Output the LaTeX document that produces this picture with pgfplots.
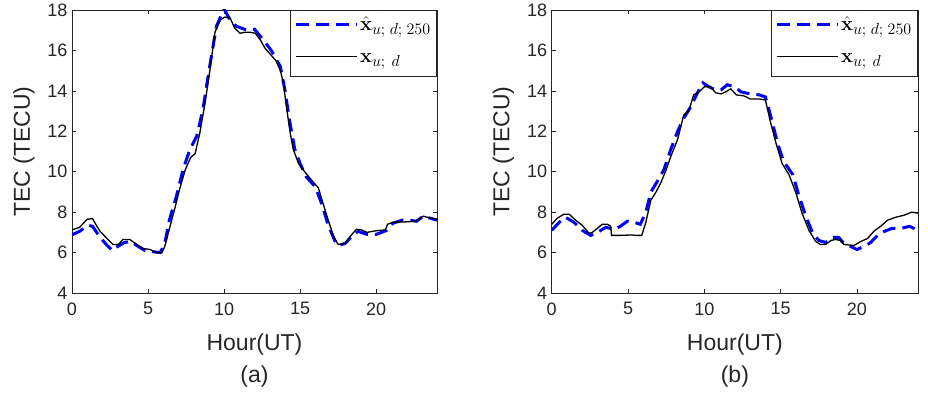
\RequirePackage{fix-cm}
\documentclass[border=0pt]{standalone}
\usepackage{pgfplots}
\pgfplotsset{compat=1.18}
\usepackage[no-math]{fontspec}
\setmainfont{Liberation Sans}
\DeclareMathSizes{20}{20}{16}{12}
\definecolor{mblue}{rgb}{0,0,1}
\definecolor{axgray}{rgb}{0.15,0.15,0.15}
\pgfplotsset{
  tecstyle/.style={
    scale only axis, width=365pt, height=283pt,
    xmin=0, xmax=24, ymin=4, ymax=18,
    xtick={0,5,10,15,20}, ytick={4,6,...,18},
    tick align=inside, major tick length=4pt,
    axis line style={axgray, line width=0.6pt},
    every tick/.style={axgray, line width=0.6pt},
    /pgf/number format/assume math mode=true,
    tick label style={font=\fontsize{18}{18}\selectfont, text=axgray},
    xticklabel style={yshift=-6pt},
    yticklabel style={xshift=-1pt},
    label style={font=\fontsize{23}{23}\selectfont, text=axgray},
    xlabel={Hour(UT)},
    xlabel style={at={(axis description cs:0.5,-0.1837)}, anchor=center},
    ylabel={TEC (TECU)},
    ylabel style={at={(axis description cs:-0.1315,0.5)}, anchor=center, rotate=0},
    legend style={at={(1,1)}, anchor=north east, draw=axgray, line width=0.6pt,
      font=\fontsize{20}{22}\selectfont, inner xsep=4pt, inner ysep=6pt, row sep=10pt,
      nodes={inner xsep=2pt, inner ysep=0pt, text height=14pt, text depth=8pt}},
    legend cell align=left,
    legend image code/.code={\draw[##1] (0pt,3pt) -- (61pt,3pt);},
  },
  bluedash/.style={mblue, line width=3pt, dash pattern=on 13pt off 7pt},
  blacksolid/.style={black, line width=1.3pt},
}
\newcommand{\lgA}{$\hat{\mathbf{x}}_{u;\mskip5mu d;\mskip5mu 250}$}
\newcommand{\lgB}{$\mathbf{x}_{u;\mskip7mu d}$}
\begin{document}
\begin{tikzpicture}
\useasboundingbox (0,0) rectangle (928pt,394pt);
\begin{axis}[tecstyle, name=A, at={(72pt,101pt)}, anchor=south west]
\addplot[bluedash] coordinates {
(0,6.88)(0.5,7.05)(1.05,7.35)(1.35,7.3)(1.8,6.8)(2.25,6.4)(2.65,6.1)(3.0,6.3)(3.45,6.5)(3.9,6.55)(4.35,6.3)(4.8,6.1)(5.2,6.05)(5.8,6.0)(6.1,6.45)(6.4,7.6)(6.85,8.75)(7.3,10.1)(7.75,11.1)(8.2,11.75)(8.6,13.05)(9.05,15.2)(9.5,17.2)(10.0,18.05)(10.4,17.5)(10.8,17.2)(11.5,17.0)(12.0,17.05)(12.6,16.5)(13.1,16.0)(13.7,15.2)(14.0,14.05)(14.3,12.55)(14.65,11.1)(15.0,10.4)(15.4,9.75)(16.0,9.25)(16.4,8.45)(16.85,7.35)(17.3,6.55)(17.5,6.35)(17.95,6.45)(18.4,6.8)(18.8,7.05)(19.4,6.9)(20.0,6.9)(20.7,7.1)(21.1,7.45)(21.7,7.6)(22.2,7.6)(22.65,7.55)(23.1,7.8)(24,7.6)
};
\addlegendentry{\lgA}
\addplot[blacksolid] coordinates {
(0,7.12)(0.5,7.25)(1.0,7.65)(1.35,7.68)(1.6,7.35)(1.85,7.05)(2.3,6.7)(2.7,6.4)(3.05,6.4)(3.35,6.65)(3.8,6.65)(4.25,6.4)(4.7,6.2)(5.15,6.15)(5.55,6.0)(5.9,5.98)(6.1,6.3)(6.45,7.3)(6.8,8.3)(7.1,9.2)(7.45,10.1)(7.8,10.7)(8.1,10.9)(8.4,11.9)(8.75,13.4)(9.1,15.2)(9.4,16.9)(9.75,17.5)(10.05,17.65)(10.4,17.6)(10.7,17.1)(11.05,16.85)(11.4,16.9)(11.7,16.9)(12.05,16.85)(12.4,16.5)(12.7,16.1)(13.05,15.8)(13.4,15.5)(13.7,15.0)(13.9,14.4)(14.1,13.2)(14.35,11.9)(14.55,11.1)(14.9,10.4)(15.4,9.9)(15.85,9.5)(16.2,9.2)(16.5,8.45)(16.85,7.6)(17.2,6.8)(17.5,6.4)(17.95,6.45)(18.4,6.9)(18.7,7.15)(19.05,7.12)(19.4,7.0)(20.0,7.08)(20.6,7.12)(20.75,7.4)(21.1,7.5)(22.0,7.52)(22.55,7.55)(23.1,7.8)(23.5,7.72)(24,7.65)
};
\addlegendentry{\lgB}
\end{axis}
\node[font=\fontsize{23}{23}\selectfont, text=axgray] at ([yshift=-84pt]A.south) {(a)};
\begin{axis}[tecstyle, name=B, at={(551.7pt,101pt)}, anchor=south west, width=366.3pt]
\addplot[bluedash] coordinates {
(0,7.1)(0.5,7.5)(0.9,7.75)(1.45,7.5)(2.0,7.1)(2.55,6.85)(3.0,7.0)(3.55,7.25)(4.1,7.15)(4.5,7.3)(4.95,7.55)(5.4,7.5)(5.8,7.4)(6.15,7.95)(6.5,9.0)(6.9,9.5)(7.35,10.1)(7.8,11.1)(8.25,12.0)(8.65,12.65)(9.1,13.2)(9.55,13.9)(9.9,14.4)(10.3,14.2)(10.75,14.05)(11.1,14.05)(11.5,14.3)(12.0,14.2)(12.4,13.95)(13.0,13.85)(13.6,13.8)(14.0,13.7)(14.35,12.75)(14.8,11.4)(15.2,10.5)(15.8,9.85)(16.2,8.8)(16.65,7.8)(17.1,6.95)(17.5,6.6)(17.95,6.5)(18.4,6.75)(18.8,6.75)(19.15,6.45)(19.6,6.3)(20.0,6.15)(20.45,6.3)(20.9,6.5)(21.35,6.85)(21.8,7.05)(22.3,7.2)(22.9,7.2)(23.45,7.3)(24,7.1)
};
\addlegendentry{\lgA}
\addplot[blacksolid] coordinates {
(0,7.4)(0.37,7.7)(0.8,7.9)(1.14,7.9)(1.57,7.6)(2.0,7.35)(2.45,6.95)(2.66,7.0)(3.0,7.2)(3.3,7.4)(3.65,7.4)(3.87,7.3)(3.92,6.85)(4.5,6.85)(5.2,6.87)(5.6,6.85)(5.9,6.85)(6.15,7.45)(6.5,8.6)(6.8,8.95)(7.15,9.45)(7.5,10.1)(7.8,10.75)(8.25,11.6)(8.65,12.8)(9.0,13.05)(9.3,13.8)(9.65,13.95)(10.0,14.2)(10.4,14.2)(10.75,13.9)(11.1,13.85)(11.4,13.95)(11.73,14.1)(12.1,13.8)(12.6,13.75)(13.0,13.6)(13.6,13.6)(14.0,13.55)(14.35,12.4)(14.7,11.4)(15.1,10.4)(15.55,9.85)(16.0,8.95)(16.4,7.95)(16.85,7.1)(17.3,6.55)(17.6,6.4)(17.95,6.4)(18.3,6.6)(18.6,6.65)(18.9,6.6)(19.15,6.4)(19.8,6.35)(20.25,6.55)(20.7,6.7)(21.1,7.05)(21.55,7.3)(22.0,7.6)(22.55,7.75)(23.1,7.85)(23.6,8.0)(24,7.95)
};
\addlegendentry{\lgB}
\end{axis}
\node[font=\fontsize{23}{23}\selectfont, text=axgray] at ([yshift=-84pt]B.south) {(b)};
\end{tikzpicture}
\end{document}
